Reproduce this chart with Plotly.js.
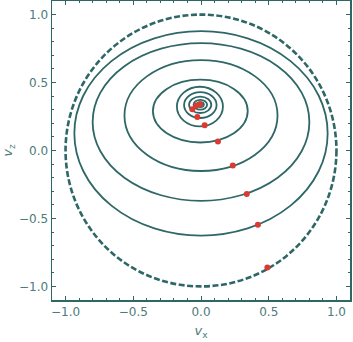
<!DOCTYPE html>
<html>
<head>
<meta charset="utf-8">
<script src="https://cdn.plot.ly/plotly-3.0.1.min.js"></script>
<style>
  html, body { margin: 0; padding: 0; background: #fff; }
  #chart { width: 353px; height: 342px; }
</style>
</head>
<body>
<div id="chart"></div>
<script>
// orbit loops in velocity space (outer -> inner)
const loopCx = [0.0, 0.0, 0.0, -0.005, -0.008, -0.005, -0.006, -0.005, -0.004];
const loopCy = [0.126, 0.21, 0.257, 0.29, 0.323, 0.334, 0.336, 0.337, 0.338];
const loopRx = [0.935, 0.8, 0.565, 0.35, 0.17, 0.12, 0.082, 0.05, 0.025];
const loopRy = [0.752, 0.58, 0.408, 0.231, 0.146, 0.095, 0.06, 0.036, 0.018];

// boundary circle |v| = 1
const boundR = 1.0;

// marked points (one per loop)
const dotX = [0.49, 0.42, 0.338, 0.235, 0.125, 0.027, -0.027, -0.064, -0.035, -0.007];
const dotY = [-0.86, -0.547, -0.32, -0.11, 0.066, 0.185, 0.246, 0.304, 0.331, 0.341];

const tickVals = [-1.0, -0.5, 0.0, 0.5, 1.0];
const tickText = ["\u22121.0", "\u22120.5", "0.0", "0.5", "1.0"];

const teal = "#2f6767";
const labelCol = "#4d7a7a";

const shapes = [{
  type: "circle", xref: "x", yref: "y", layer: "below",
  x0: -boundR, x1: boundR, y0: -boundR, y1: boundR,
  line: { color: teal, width: 2.6, dash: "6px,2.5px" }
}];
loopCx.forEach((cx, i) => {
  shapes.push({
    type: "circle", xref: "x", yref: "y", layer: "below",
    x0: cx - loopRx[i], x1: cx + loopRx[i],
    y0: loopCy[i] - loopRy[i], y1: loopCy[i] + loopRy[i],
    line: { color: teal, width: 1.8 }
  });
});

const axisBase = {
  range: [-1.1, 1.1],
  tickvals: tickVals,
  ticktext: tickText,
  ticks: "inside",
  ticklen: 4,
  tickcolor: teal,
  showline: true,
  mirror: "ticks",
  linecolor: teal,
  linewidth: 1.5,
  showgrid: false,
  zeroline: false,
  tickfont: { family: "DejaVu Sans", size: 12, color: labelCol },
  minor: { ticks: "inside", ticklen: 2, tickcolor: teal, dtick: 0.1 }
};

Plotly.newPlot("chart", [{
  x: dotX,
  y: dotY,
  type: "scatter",
  mode: "markers",
  marker: { color: "#d93a32", size: 6 },
  hoverinfo: "x+y"
}], {
  width: 353,
  height: 342,
  margin: { l: 52, r: 3, t: 1, b: 42 },
  paper_bgcolor: "#fff",
  plot_bgcolor: "#fff",
  showlegend: false,
  shapes: shapes,
  xaxis: Object.assign({}, axisBase, {
    title: { text: "<i>v</i><sub>x</sub>", font: { family: "DejaVu Sans", size: 13, color: labelCol }, standoff: 8 }
  }),
  yaxis: Object.assign({}, axisBase, {
    title: { text: "<i>v</i><sub>z</sub>", font: { family: "DejaVu Sans", size: 13, color: labelCol }, standoff: 8 }
  })
}, { displayModeBar: false, staticPlot: true });
</script>
</body>
</html>
